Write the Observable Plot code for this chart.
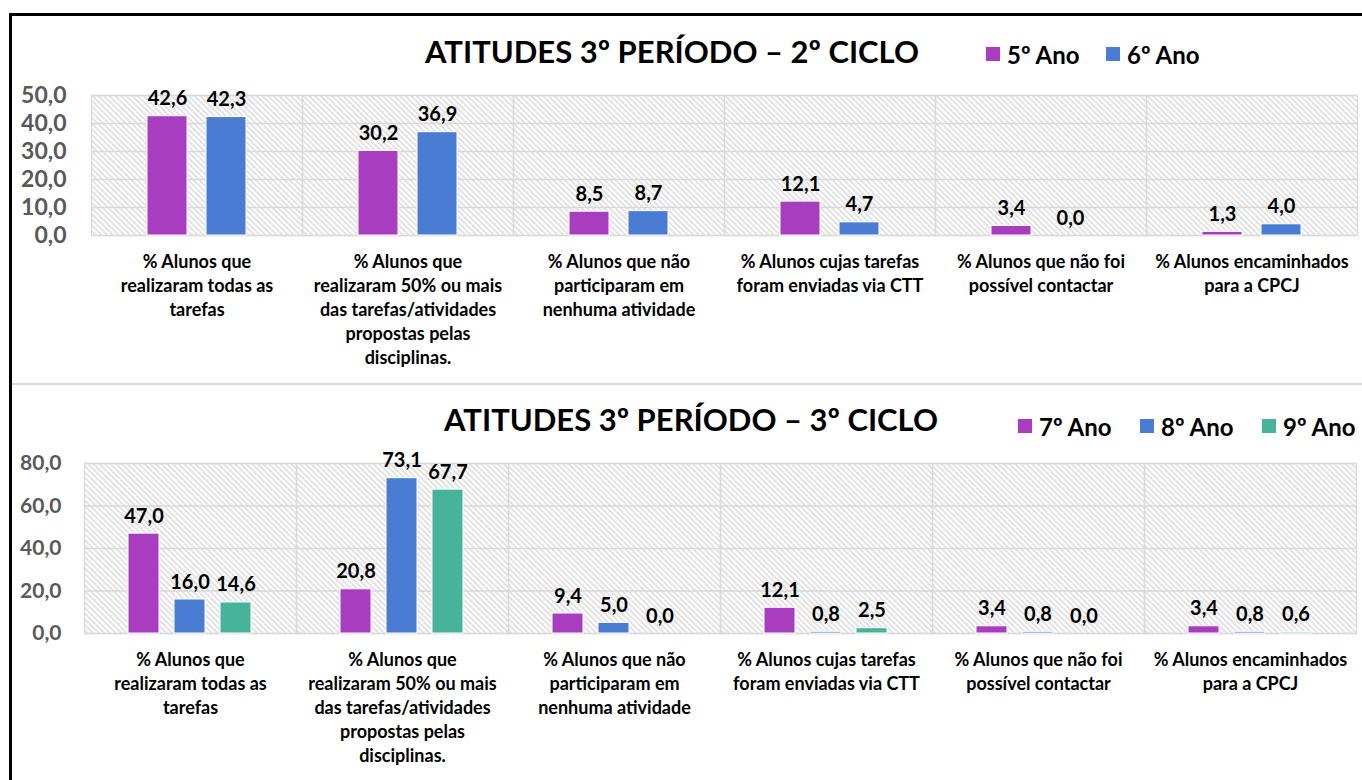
<!DOCTYPE html>
<html>
<head>
<meta charset="utf-8">
<script src="https://cdn.jsdelivr.net/npm/d3@7"></script>
<script src="https://cdn.jsdelivr.net/npm/@observablehq/plot@0.6"></script>
<style>
  body { margin: 0; background: white; }
  #root { position: relative; width: 1362px; height: 780px; overflow: hidden; background: white; font-family: Lato, "Open Sans", sans-serif; }
  .abs { position: absolute; }
  .title { font-weight: 700; font-size: 31px; color: #000; white-space: nowrap; }
  .leg { font-weight: 700; font-size: 24px; color: #000; white-space: nowrap; display: flex; align-items: center; }
  .sw { width: 14px; height: 14px; display: inline-block; margin-right: 7px; }
</style>
</head>
<body>
<div id="root">
  <svg width="0" height="0" style="position:absolute">
    <defs>
      <pattern id="hatch" patternUnits="userSpaceOnUse" width="4" height="4" patternTransform="rotate(45)">
        <rect width="4" height="4" fill="white"></rect>
        <line x1="0" y1="2" x2="4" y2="2" stroke="#cfcfcf" stroke-width="1.2"></line>
      </pattern>
    </defs>
  </svg>
  <div class="abs" style="left:9px;top:13px;width:1353px;height:2.5px;background:#000"></div>
  <div class="abs" style="left:9px;top:13px;width:2.5px;height:767px;background:#000"></div>
  <div class="abs" style="left:12px;top:383px;width:1350px;height:1.5px;background:#d9d9d9"></div>
</div>
<script>
const categories = [
  "% Alunos que\nrealizaram todas as\ntarefas",
  "% Alunos que\nrealizaram 50% ou mais\ndas tarefas/atividades\npropostas pelas\ndisciplinas.",
  "% Alunos que não\nparticiparam em\nnenhuma atividade",
  "% Alunos cujas tarefas\nforam enviadas via CTT",
  "% Alunos que não foi\npossível contactar",
  "% Alunos encaminhados\npara a CPCJ"
];
const series2 = ["5º Ano", "6º Ano"];
const values5 = [42.6, 30.2, 8.5, 12.1, 3.4, 1.3];
const values6 = [42.3, 36.9, 8.7, 4.7, 0.0, 4.0];
const series3 = ["7º Ano", "8º Ano", "9º Ano"];
const values7 = [47.0, 20.8, 9.4, 12.1, 3.4, 3.4];
const values8 = [16.0, 73.1, 5.0, 0.8, 0.8, 0.8];
const values9 = [14.6, 67.7, 0.0, 2.5, 0.0, 0.6];
const ticks2 = [0, 10, 20, 30, 40, 50];
const ticks3 = [0, 20, 40, 60, 80];
const colors2 = ["#A93DBF", "#4A7CD3"];
const colors3 = ["#A93DBF", "#4A7CD3", "#47B39A"];
const title2 = "ATITUDES 3º PERÍODO – 2º CICLO";
const title3 = "ATITUDES 3º PERÍODO – 3º CICLO";

const fmt = d => d.toFixed(1).replace(".", ",");

function table(series, arrays) {
  const rows = [];
  categories.forEach((c, i) => series.forEach((s, j) => rows.push({cat: c, serie: s, value: arrays[j][i]})));
  return rows;
}

function panel({series, arrays, colors, ticks, ymax, marginLeft, plotH, marginBottom, pIn, pOut, tickFont, tickPad}) {
  const data = table(series, arrays);
  return Plot.plot({
    width: 1362,
    height: 20 + plotH + marginBottom,
    marginTop: 20,
    marginBottom,
    marginLeft,
    marginRight: 4,
    style: {fontFamily: "Lato, 'Open Sans', sans-serif", background: "transparent", overflow: "visible"},
    fx: {domain: categories, padding: 0, axis: null},
    x: {domain: series, paddingInner: pIn, paddingOuter: pOut, axis: null},
    y: {domain: [0, ymax], axis: null},
    color: {domain: series, range: colors},
    marks: [
      Plot.frame({fill: "url(#hatch)", stroke: null}),
      Plot.gridY(ticks, {stroke: "#d9d9d9", strokeOpacity: 1, strokeWidth: 1.3}),
      Plot.frame({stroke: "#d9d9d9", strokeWidth: 1.3}),
      Plot.axisY({ticks, tickFormat: fmt, tickSize: 0, tickPadding: tickPad, fontSize: tickFont, fontWeight: "bold", fill: "#595959", anchor: "left", label: null}),
      Plot.barY(data, {fx: "cat", x: "serie", y: "value", fill: "serie", stroke: "white", strokeWidth: 1}),
      Plot.text(data, {fx: "cat", x: "serie", y: "value", text: d => fmt(d.value), lineAnchor: "bottom", dy: -11, fontSize: 20, fontWeight: "bold", fill: "black"}),
      Plot.text(categories, {fx: d => d, text: d => d, frameAnchor: "bottom", lineAnchor: "top", dy: 15, fontSize: 18, fontWeight: "bold", lineHeight: 1.34, fill: "black"})
    ]
  });
}

const root = document.getElementById("root");

const p2 = panel({series: series2, arrays: [values5, values6], colors: colors2, ticks: ticks2, ymax: 50,
  marginLeft: 90, plotH: 140, marginBottom: 135, pIn: 0.317, pOut: 0.917, tickFont: 23, tickPad: 25});
p2.classList.add("abs"); p2.style.left = "0px"; p2.style.top = "75px";
root.appendChild(p2);

const p3 = panel({series: series3, arrays: [values7, values8, values9], colors: colors3, ticks: ticks3, ymax: 80,
  marginLeft: 82, plotH: 170, marginBottom: 137, pIn: 0.319, pOut: 0.92, tickFont: 21, tickPad: 23});
p3.classList.add("abs"); p3.style.left = "0px"; p3.style.top = "443px";
root.appendChild(p3);

function addTitle(text, cx, cy) {
  const t = document.createElement("div");
  t.className = "abs title"; t.textContent = text;
  root.appendChild(t);
  const r = t.getBoundingClientRect();
  t.style.left = (cx - r.width / 2) + "px";
  t.style.top = (cy - r.height / 2) + "px";
}
addTitle(title2, 672, 51);
addTitle(title3, 691, 419);

function addLegend(series, colors, xs, cy) {
  series.forEach((s, i) => {
    const d = document.createElement("div");
    d.className = "abs leg";
    const sw = document.createElement("span"); sw.className = "sw"; sw.style.background = colors[i];
    d.appendChild(sw); d.appendChild(document.createTextNode(s));
    root.appendChild(d);
    const r = d.getBoundingClientRect();
    d.style.left = xs[i] + "px"; d.style.top = (cy - r.height / 2) + "px";
  });
}
addLegend(series2, colors2, [986, 1106], 54);
addLegend(series3, colors3, [1018, 1140, 1262], 426);
</script>
</body>
</html>
